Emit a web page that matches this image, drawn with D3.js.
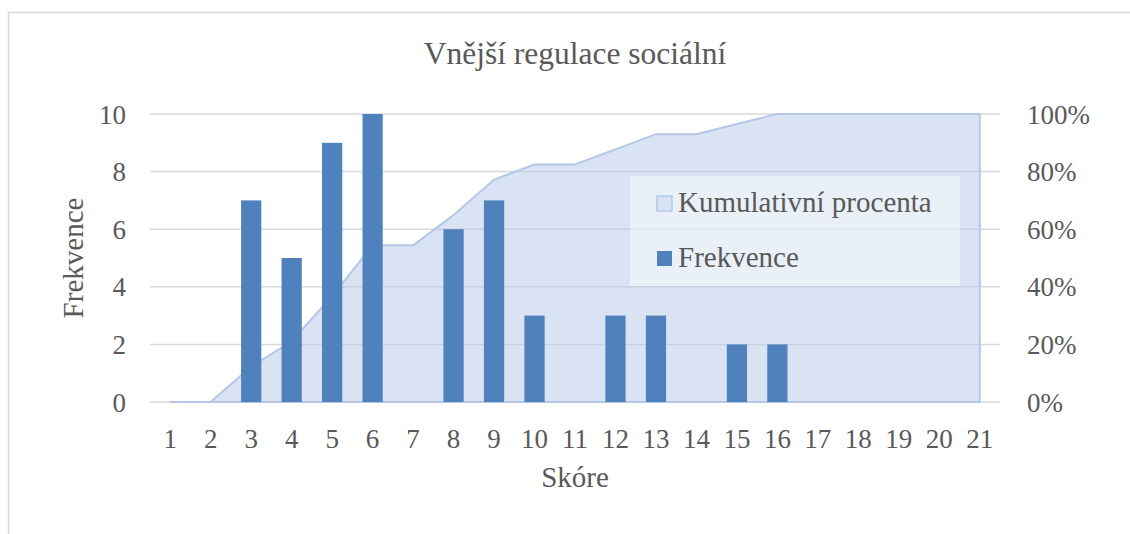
<!DOCTYPE html>
<html lang="cs">
<head>
<meta charset="utf-8">
<title>Vnější regulace sociální</title>
<script src="https://d3js.org/d3.v7.min.js"></script>
<style>
  body { margin: 0; background: #fff; }
  svg text { font-family: "Liberation Serif", "Times New Roman", serif; fill: #595959; }
</style>
</head>
<body>
<div id="chart"></div>
<script>
// data
var skore = ["1","2","3","4","5","6","7","8","9","10","11","12","13","14","15","16","17","18","19","20","21"];
var frekvence = [0,0,7,5,9,10,0,6,7,3,0,3,3,0,2,2,0,0,0,0,0];
var kumulativni = [0,0,0.123,0.211,0.368,0.544,0.544,0.649,0.772,0.825,0.825,0.877,0.930,0.930,0.965,1,1,1,1,1,1];
var leftTicks = [0,2,4,6,8,10];
var rightTicks = [0,0.2,0.4,0.6,0.8,1];

var W = 1130, H = 534;
var plot = {left: 150, right: 1000, top: 114, bottom: 402};

var svg = d3.select("#chart").append("svg")
    .attr("width", W)
    .attr("height", H);

// chart frame (cut by the window on the right/bottom)
svg.append("rect")
    .attr("x", 8.5).attr("y", 12.5)
    .attr("width", 1200).attr("height", 600)
    .attr("fill", "#fff")
    .attr("stroke", "#d9d9d9")
    .attr("stroke-width", 1.5);

var x = d3.scaleBand().domain(skore).range([plot.left, plot.right]).padding(0);
var bw = x.bandwidth();
var y = d3.scaleLinear().domain([0, 10]).range([plot.bottom, plot.top]);
var y2 = d3.scaleLinear().domain([0, 1]).range([plot.bottom, plot.top]);

// gridlines
svg.append("g").selectAll("line")
    .data(leftTicks)
    .enter().append("line")
    .attr("x1", plot.left).attr("x2", plot.right)
    .attr("y1", function(d) { return y(d); })
    .attr("y2", function(d) { return y(d); })
    .attr("stroke", "#d9d9d9")
    .attr("stroke-width", 1.5);

// cumulative area (secondary axis)
var area = d3.area()
    .x(function(d, i) { return x(skore[i]) + bw / 2; })
    .y0(y2(0))
    .y1(function(d) { return y2(d); });

svg.append("path")
    .datum(kumulativni)
    .attr("d", function(d) { return area(d) + "Z"; })
    .attr("fill", "#b4c7e7")
    .attr("fill-opacity", 0.5)
    .attr("stroke", "#b4c7e7")
    .attr("stroke-width", 2)
    .attr("stroke-linejoin", "round");

// bars
svg.append("g").selectAll("rect")
    .data(frekvence)
    .enter().append("rect")
    .attr("x", function(d, i) { return x(skore[i]) + bw * 0.25; })
    .attr("width", bw * 0.5)
    .attr("y", function(d) { return y(d); })
    .attr("height", function(d) { return y(0) - y(d); })
    .attr("fill", "#4f81bd");

// axes
var axL = svg.append("g")
    .attr("transform", "translate(" + (plot.left - 24) + ",0)")
    .call(d3.axisLeft(y).tickValues(leftTicks).tickSize(0).tickPadding(0));
var axR = svg.append("g")
    .attr("transform", "translate(" + (plot.right + 27) + ",0)")
    .call(d3.axisRight(y2).tickValues(rightTicks).tickSize(0).tickPadding(0).tickFormat(d3.format(".0%")));
var axB = svg.append("g")
    .attr("transform", "translate(0," + (plot.bottom + 20) + ")")
    .call(d3.axisBottom(x).tickSize(0).tickPadding(0));

[axL, axR, axB].forEach(function(a) {
    a.select(".domain").remove();
    a.selectAll("text")
        .attr("fill", "#595959")
        .style("font-size", "27px")
        .style("font-family", "Liberation Serif, Times New Roman, serif");
});
axL.selectAll("text").attr("dy", "0.34em");
axR.selectAll("text").attr("dy", "0.34em");
axB.selectAll("text").attr("dy", "0.95em");

// titles
svg.append("text")
    .attr("x", (plot.left + plot.right) / 2)
    .attr("y", 64)
    .attr("text-anchor", "middle")
    .style("font-size", "31.5px")
    .text("Vnější regulace sociální");

svg.append("text")
    .attr("x", (plot.left + plot.right) / 2)
    .attr("y", 487)
    .attr("text-anchor", "middle")
    .style("font-size", "29px")
    .text("Skóre");

svg.append("text")
    .attr("transform", "translate(83," + ((plot.top + plot.bottom) / 2) + ") rotate(-90)")
    .attr("text-anchor", "middle")
    .style("font-size", "29px")
    .text("Frekvence");

// legend
var lg = svg.append("g").attr("transform", "translate(630,176)");
lg.append("rect")
    .attr("width", 330).attr("height", 110)
    .attr("fill", "#fff")
    .attr("fill-opacity", 0.45);

var items = [
    {name: "Kumulativní procenta", fill: "#dae3f3", stroke: "#b4c7e7", y: 20},
    {name: "Frekvence", fill: "#4f81bd", stroke: "none", y: 75}
];
var it = lg.selectAll(".item").data(items).enter().append("g")
    .attr("class", "item")
    .attr("transform", function(d) { return "translate(27," + d.y + ")"; });
it.append("rect")
    .attr("width", 15).attr("height", 15)
    .attr("fill", function(d) { return d.fill; })
    .attr("stroke", function(d) { return d.stroke; })
    .attr("stroke-width", 1.5);
it.append("text")
    .attr("x", 21).attr("y", 16)
    .style("font-size", "29px")
    .text(function(d) { return d.name; });
</script>
</body>
</html>
